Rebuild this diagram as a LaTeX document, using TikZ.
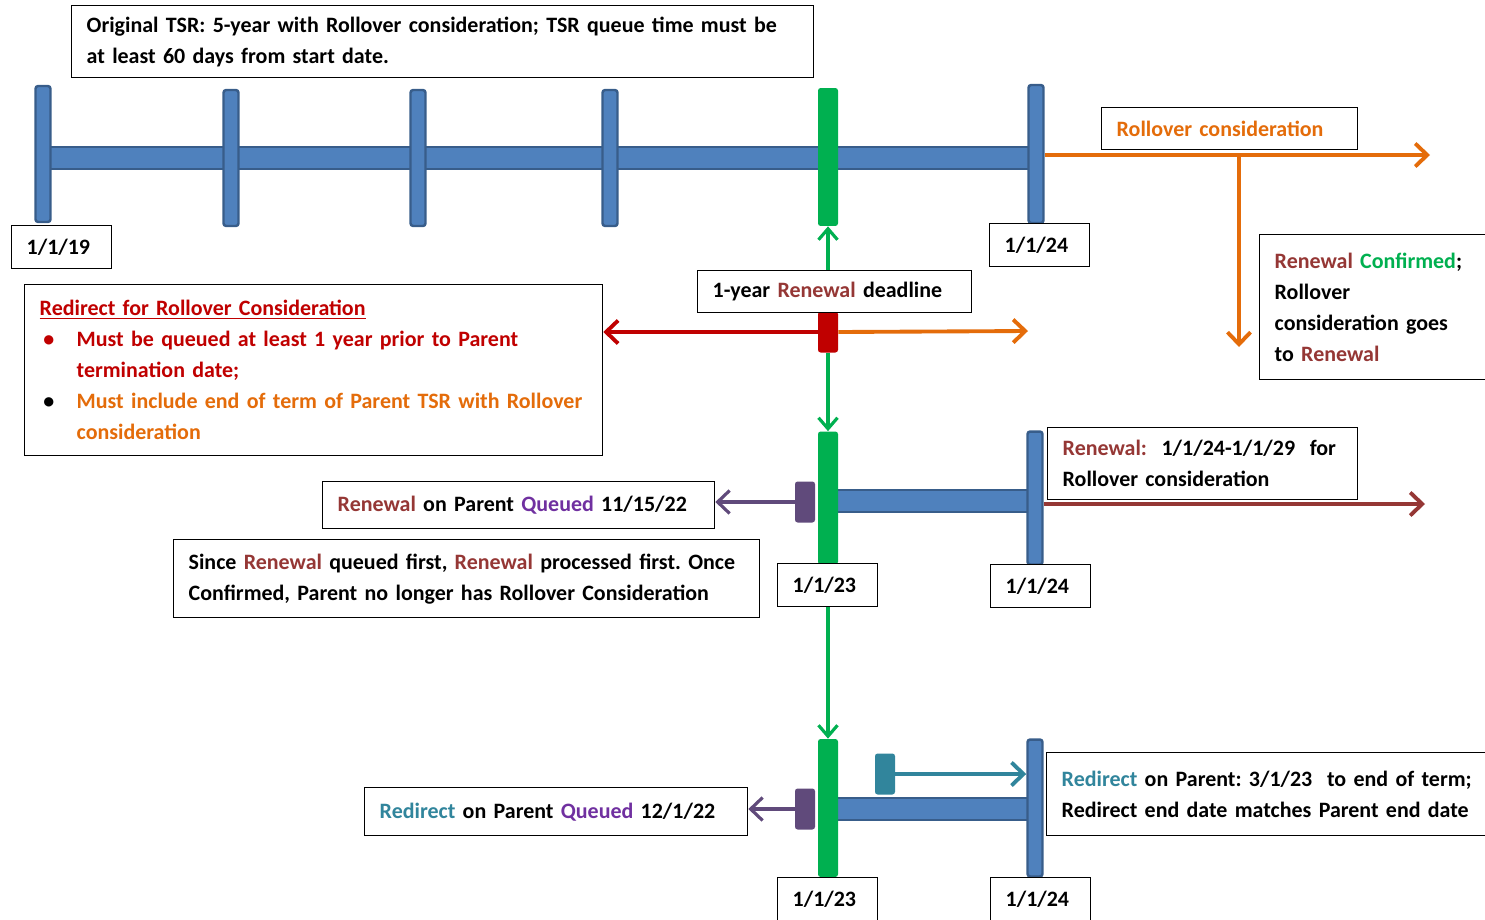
\documentclass[tikz,border=0pt]{standalone}
\usepackage{fontspec}
\setmainfont{Carlito}
\frenchspacing
\usepackage{tikz}
\usetikzlibrary{arrows.meta}
\definecolor{barblue}{HTML}{4F81BD}
\definecolor{baredge}{HTML}{385D8A}
\definecolor{confgreen}{HTML}{00B050}
\definecolor{rollorange}{HTML}{E46C0A}
\definecolor{deadred}{HTML}{C00000}
\definecolor{renewbrown}{HTML}{953735}
\definecolor{queuepurple}{HTML}{7030A0}
\definecolor{markpurple}{HTML}{604A7B}
\definecolor{redirteal}{HTML}{31859C}

\begin{document}
\begin{tikzpicture}[x=0.02cm, y=-0.02cm,
    note/.style={draw, line width=0.8pt, fill=white, anchor=north west, align=left,
                 inner xsep=0.3cm, inner ysep=0pt,
                 font=\fontsize{12.5}{17.6}\selectfont\bfseries},
    datebox/.style={note, text width=1.4cm, minimum height=0.86cm},
    tick/.style={draw=baredge, fill=barblue, line width=1.4pt, rounded corners=1.5pt,
                 minimum width=0.3cm, inner sep=0pt},
    gtick/.style={fill=confgreen, rounded corners=1.5pt, minimum width=0.4cm, inner sep=0pt},
    hbar/.style={draw=baredge, fill=barblue, line width=1.4pt, minimum height=0.44cm, inner sep=0pt},
    marker/.style={rounded corners=1.5pt, minimum width=0.4cm, minimum height=0.82cm, inner sep=0pt},
    arr/.style={-{Straight Barb[length=0.24cm, width=0.46cm]}, line width=2.2pt},
    garr/.style={-{Straight Barb[length=0.22cm, width=0.38cm]}, line width=1.8pt, confgreen},
]
\useasboundingbox (0,0) rectangle (1485,920);

\node[hbar, minimum width=19.86cm] (bar1) at (539.5,158) {};
\node[hbar, minimum width=4.14cm] (bar2) at (931.5,501) {};
\node[hbar, minimum width=4.14cm] (bar3) at (931.5,809) {};

\node[tick, minimum height=2.72cm] (t1) at (43,154) {};
\node[tick, minimum height=2.72cm] (t2) at (231,158) {};
\node[tick, minimum height=2.72cm] (t3) at (418,158) {};
\node[tick, minimum height=2.72cm] (t4) at (610,158) {};
\node[tick, minimum height=2.76cm] (t5) at (1036,154) {};
\node[gtick, minimum height=2.76cm] (g1) at (828,157) {};
\node[tick, minimum height=2.66cm] (t6) at (1035,498) {};
\node[gtick, minimum height=2.66cm] (g2) at (828,498) {};
\node[tick, minimum height=2.74cm] (t7) at (1035,808) {};
\node[gtick, minimum height=2.76cm] (g3) at (828,808) {};

\node[marker, fill=deadred] (redm) at (828,332) {};
\node[marker, fill=markpurple] (pm1) at (805,502) {};
\node[marker, fill=markpurple] (pm2) at (805,809) {};
\node[marker, fill=redirteal] (tm) at (885,774) {};

\node[note, text width=14.24cm, minimum height=1.44cm] (orig) at (71,5)
    {Original TSR: 5-year with Rollover consideration; TSR queue time must be\\
     at least 60 days from start date.};
\node[datebox] (d19) at (11,225) {1/1/19};
\node[datebox] (d24a) at (989,223) {1/1/24};
\node[datebox] (d23a) at (777,563) {1/1/23};
\node[datebox] (d24b) at (990,564) {1/1/24};
\node[datebox] (d23b) at (777,877) {1/1/23};
\node[datebox] (d24c) at (990,877) {1/1/24};
\node[note, text width=4.52cm, minimum height=0.84cm, text=rollorange] (roll) at (1101,107)
    {Rollover consideration};
\node[note, text width=4.3cm, minimum height=2.9cm] (conf) at (1259,234)
    {\textcolor{renewbrown}{Renewal} \textcolor{confgreen}{Confirmed};\\
     Rollover\\consideration goes\\to \textcolor{renewbrown}{Renewal}};
\node[note, text width=4.88cm, minimum height=0.84cm] (dead) at (697,270)
    {1-year \textcolor{renewbrown}{Renewal} deadline};
\node[note, text width=10.96cm, minimum height=3.42cm, text=deadred] (redir) at (24,284)
    {\underline{Redirect for Rollover Consideration}\\
     \makebox[0.74cm][l]{\,\textbullet}Must be queued at least 1 year prior to Parent\\
     \hspace*{0.74cm}termination date;\\
     \makebox[0.74cm][l]{\,\textcolor{black}{\textbullet}}\textcolor{rollorange}{Must include end of term of Parent TSR with Rollover}\\
     \hspace*{0.74cm}\textcolor{rollorange}{consideration}};
\node[note, text width=7.24cm, minimum height=0.94cm] (queued1) at (322,481)
    {\textcolor{renewbrown}{Renewal} on Parent \textcolor{queuepurple}{Queued} 11/15/22};
\node[note, text width=11.12cm, minimum height=1.56cm] (since) at (173,539)
    {Since \textcolor{renewbrown}{Renewal} queued first, \textcolor{renewbrown}{Renewal} processed first. Once\\
     Confirmed, Parent no longer has Rollover Consideration};
\node[note, text width=5.6cm, minimum height=1.44cm] (rndates) at (1047,427)
    {\textcolor{renewbrown}{Renewal:}\ \ 1/1/24-1/1/29\ \ for\\Rollover consideration};
\node[note, text width=7.06cm, minimum height=0.96cm] (queued2) at (364,787)
    {\textcolor{redirteal}{Redirect} on Parent \textcolor{queuepurple}{Queued} 12/1/22};
\node[note, text width=8.8cm, minimum height=1.66cm] (redpar) at (1046,752)
    {\textcolor{redirteal}{Redirect} on Parent: 3/1/23\ \ to end of term;\\
     Redirect end date matches Parent end date};

\coordinate (rollend) at (1430,155);
\coordinate (splitpt) at (1239,155);
\coordinate (splitend) at (1239,347);
\coordinate (dlend) at (1028,331);
\coordinate (rnend) at (1425,504);

\draw[arr, rollorange] (t5.east |- rollend) -- (rollend);
\draw[arr, rollorange] (splitpt) -- (splitend);
\draw[garr] (dead.north -| g1) -- (g1.south);
\draw[arr, deadred] (redm.west) -- (redir.east |- redm);
\draw[arr, rollorange] (redm.east) -- (dlend);
\draw[garr] (redm.south) -- (g2.north);
\draw[arr, markpurple, line width=1.8pt] (pm1.west) -- (queued1.east |- pm1);
\draw[arr, renewbrown] (t6.east |- rnend) -- (rnend);
\draw[garr] (d23a.south -| g3) -- (g3.north);
\draw[arr, redirteal] (tm.east) -- (t7.west |- tm);
\draw[arr, markpurple, line width=1.8pt] (pm2.west) -- (queued2.east |- pm2);
\end{tikzpicture}
\end{document}
